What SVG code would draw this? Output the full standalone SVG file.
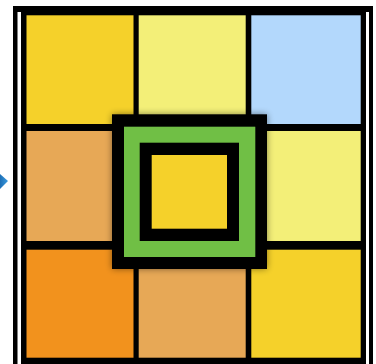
<svg xmlns="http://www.w3.org/2000/svg" width="376" height="364" viewBox="0 0 376 364">
<defs>
<style>
.frame{fill:#000}
.gap{fill:#fff}
.c-y{fill:#F5D12A}
.c-ly{fill:#F3EF78}
.c-b{fill:#B3D8FC}
.c-t{fill:#E7A856}
.c-o{fill:#F2921D}
</style>
<filter id="sh" x="-20%" y="-20%" width="140%" height="140%">
<feGaussianBlur in="SourceAlpha" stdDeviation="3.5"/>
<feComponentTransfer><feFuncA type="linear" slope="0.45"/></feComponentTransfer>
<feMerge><feMergeNode/><feMergeNode in="SourceGraphic"/></feMerge>
</filter>
<linearGradient id="ar" x1="0" y1="0" x2="1" y2="0">
<stop offset="0" stop-color="#1E6FB5"/>
<stop offset="1" stop-color="#3A9BE0"/>
</linearGradient>
</defs>
<g id="arrow"><polygon points="0,174 8,181 0,189" fill="url(#ar)"/></g>
<g id="board">
<rect class="frame" x="13" y="6" width="360" height="358"/>
<rect class="gap" x="17.5" y="12" width="3.5" height="352"/>
<rect class="gap" x="366" y="12" width="3" height="352"/>
<rect class="frame" x="21" y="6" width="345" height="358"/>
</g>
<g id="cell1"><rect class="c-y" x="26.5" y="15.3" width="107" height="108.7"/></g>
<g id="cell2"><rect class="c-ly" x="138.7" y="15.3" width="107" height="108.7"/></g>
<g id="cell3"><rect class="c-b" x="251.3" y="15.3" width="109.4" height="108.7"/></g>
<g id="cell4"><rect class="c-t" x="26.5" y="131" width="107" height="110"/></g>
<g id="cell6"><rect class="c-ly" x="251.3" y="131" width="109.4" height="110"/></g>
<g id="cell7"><rect class="c-o" x="26.5" y="249.7" width="107" height="108"/></g>
<g id="cell8"><rect class="c-t" x="138.7" y="249.7" width="107" height="108"/></g>
<g id="cell9"><rect class="c-y" x="251.3" y="249.7" width="109.4" height="108"/></g>
<g id="cell5" filter="url(#sh)">
<rect fill="#000" x="112" y="114.3" width="155" height="154.7"/>
<rect fill="#70BF44" x="124" y="126.7" width="131.3" height="130.3"/>
<rect fill="#000" x="139.7" y="142.7" width="99.3" height="98.3"/>
<rect class="c-y" x="151.7" y="155" width="75.3" height="73.7"/>
</g>
</svg>
